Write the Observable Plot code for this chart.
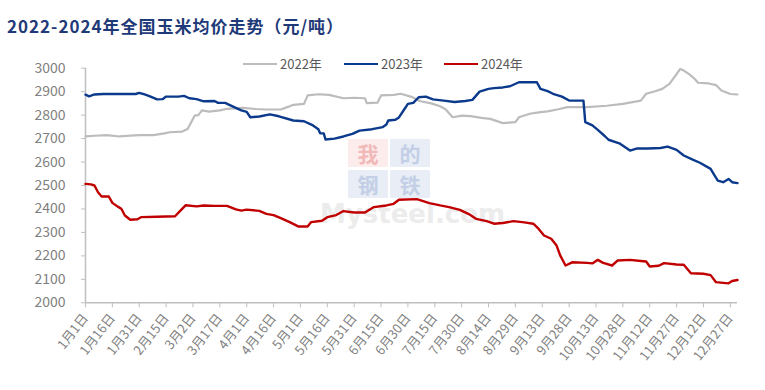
<!DOCTYPE html>
<html><head><meta charset="utf-8">
<script src="https://cdn.jsdelivr.net/npm/d3@7"></script>
<script src="https://cdn.jsdelivr.net/npm/@observablehq/plot@0.6"></script>
<style>
body{margin:0;background:#fff;font-family:"Noto Sans CJK SC","Noto Sans",sans-serif;}
#wrap{position:relative;width:765px;height:390px;overflow:hidden;background:#fff}
#title{height:45px;box-sizing:border-box;padding-left:7px;padding-top:13px;font-size:17px;font-weight:bold;color:#1f3a78;letter-spacing:1px;line-height:26px;white-space:nowrap}
#chart{position:relative;z-index:1}
#legend{position:absolute;z-index:2;top:54px;left:0;height:20px;width:765px;font-size:13px;color:#595959}
.li{position:absolute;top:0;height:20px;line-height:20px}
.sw{position:absolute;top:9px;width:34px;height:2px}
.tile{position:absolute;z-index:0;width:40px;height:28px;}
.tt{position:absolute;z-index:0;width:40px;height:28px;line-height:28px;font-size:21px;text-align:center;font-weight:bold}
.wm{position:absolute;z-index:0;line-height:30px;font-weight:bold}
</style></head>
<body>
<div id="wrap">
  <div id="title">2022-2024年全国玉米均价走势（元/吨）</div>
  <div class="tile" style="left:348px;top:139px;background:#fcecec"></div>
  <div class="tile" style="left:390px;top:139px;background:#e8edf6"></div>
  <div class="tile" style="left:348px;top:170px;background:#e8edf6"></div>
  <div class="tile" style="left:390px;top:170px;background:#e8edf6"></div>
  <div class="tt" style="left:348px;top:139px;color:#f2b9b9">我</div>
  <div class="tt" style="left:390px;top:139px;color:#c3cfe6">的</div>
  <div class="tt" style="left:348px;top:170px;color:#c3cfe6">钢</div>
  <div class="tt" style="left:390px;top:170px;color:#c3cfe6">铁</div>
  <div class="wm" style="left:320px;top:199px;font-size:26px;color:#ececec;font-family:'DejaVu Sans',sans-serif">Mysteel.com</div>
  <div id="chart"></div>
  <div id="legend"></div>
</div>
<script>
// ---- data (day-of-year index, price 元/吨) ----
const tickDays = [0,15,30,45,60,75,90,105,120,135,150,165,180,195,210,225,240,255,270,285,300,315,330,345,360];
const tickLabels = ["1月1日","1月16日","1月31日","2月15日","3月2日","3月17日","4月1日","4月16日","5月1日","5月16日","5月31日","6月15日","6月30日","7月15日","7月30日","8月14日","8月29日","9月13日","9月28日","10月13日","10月28日","11月12日","11月27日","12月12日","12月27日"];
const seriesNames = ["2022年","2023年","2024年"];
const seriesColors = ["#bcbcbc","#0b3a8c","#c00000"];

const days2022 = [0,5,12,19,25,30,38,44,47,54,57,59,61,63,65,69,75,79,88,95,101,109,113,116,122,124,130,136,144,150,156,157,163,165,172,176,182,187,193,198,201,205,210,215,221,226,233,240,242,248,253,258,264,269,280,291,300,310,313,318,322,326,330,332,334,337,340,342,348,352,355,360,364];
const price2022 = [2709,2712,2715,2709,2713,2715,2715,2722,2727,2730,2741,2770,2798,2800,2820,2815,2820,2827,2831,2826,2824,2824,2835,2844,2848,2884,2889,2886,2872,2874,2872,2851,2853,2884,2886,2891,2878,2859,2850,2838,2825,2791,2798,2796,2788,2784,2766,2770,2791,2806,2812,2816,2825,2834,2834,2840,2848,2862,2891,2902,2912,2933,2975,2997,2990,2975,2955,2938,2935,2928,2905,2890,2888];

const days2023 = [0,2,5,10,20,28,30,33,36,40,43,45,52,55,58,62,66,72,74,78,80,83,87,90,92,97,103,108,116,122,127,130,131,133,134,139,144,149,153,160,166,168,169,173,175,178,180,183,186,190,194,200,206,212,216,220,225,228,233,237,242,252,254,258,261,266,270,278,279,283,286,290,292,298,304,308,314,321,325,330,334,339,343,349,351,353,356,359,361,364];
const price2023 = [2887,2880,2888,2890,2890,2890,2895,2888,2880,2867,2868,2879,2879,2882,2872,2868,2859,2860,2852,2852,2845,2834,2820,2814,2791,2794,2803,2795,2777,2774,2756,2740,2723,2722,2696,2700,2709,2720,2734,2740,2749,2760,2777,2780,2790,2825,2848,2852,2876,2879,2867,2862,2856,2860,2865,2900,2912,2915,2918,2923,2940,2940,2912,2902,2891,2879,2862,2862,2770,2756,2737,2710,2695,2680,2649,2658,2658,2660,2666,2652,2628,2610,2597,2571,2545,2521,2514,2528,2514,2510];

const days2024 = [0,3,5,7,9,13,15,18,20,22,25,29,31,40,50,53,56,62,66,72,79,84,87,90,97,101,105,109,114,119,124,126,132,135,140,144,150,156,161,168,172,175,185,192,198,203,209,214,218,224,228,233,239,245,250,253,256,260,263,265,268,272,280,283,286,289,294,297,304,310,313,315,320,323,330,334,338,345,349,352,356,359,361,364];
const price2024 = [2507,2505,2500,2471,2453,2453,2426,2410,2401,2372,2354,2356,2365,2367,2369,2393,2416,2411,2415,2413,2413,2398,2393,2397,2392,2379,2374,2361,2344,2325,2325,2344,2350,2365,2374,2391,2385,2385,2408,2415,2422,2439,2442,2425,2415,2408,2396,2378,2358,2348,2337,2340,2348,2343,2337,2315,2287,2273,2244,2202,2159,2173,2170,2168,2183,2170,2159,2180,2183,2178,2176,2155,2158,2169,2163,2162,2126,2124,2118,2088,2085,2083,2093,2097];

const yTicks = [2000,2100,2200,2300,2400,2500,2600,2700,2800,2900,3000];

// ---- build table ----
const allDays = [days2022, days2023, days2024];
const allPrices = [price2022, price2023, price2024];
const rows = [];
allDays.forEach((ds, s) => ds.forEach((d, i) => rows.push({series: seriesNames[s], day: d, price: allPrices[s][i]})));
const labelOf = new Map(tickDays.map((d, i) => [d, tickLabels[i]]));
const font = '"Noto Sans CJK SC","Noto Sans",sans-serif';

const chart = Plot.plot({
  width: 765,
  height: 345,
  marginLeft: 85,
  marginRight: 28,
  marginTop: 22.7,
  marginBottom: 87.7,
  style: {fontFamily: font, fontSize: "13px", color: "#7f7f7f", background: "transparent", overflow: "visible"},
  x: {domain: [0, 364], label: null},
  y: {domain: [2000, 3000], label: null},
  color: {domain: seriesNames, range: seriesColors},
  marks: [
    Plot.axisY(yTicks, {tickSize: 4, tickPadding: 16, stroke: "#bfbfbf", fill: "#7f7f7f", tickFormat: d => String(d), label: null, fontSize: 14}),
    Plot.axisX(tickDays, {tickSize: 5, tickPadding: 8, tickRotate: -52, stroke: "#bfbfbf", fill: "#7f7f7f", tickFormat: d => labelOf.get(d), label: null, fontSize: 13}),
    Plot.ruleX([0], {stroke: "#bfbfbf", strokeWidth: 1.5}),
    Plot.ruleY([2000], {stroke: "#bfbfbf", strokeWidth: 1.5}),
    Plot.line(rows.filter(r => r.series === "2022年"), {x: "day", y: "price", stroke: "series", strokeWidth: 2.2}),
    Plot.line(rows.filter(r => r.series === "2023年"), {x: "day", y: "price", stroke: "series", strokeWidth: 2.4}),
    Plot.line(rows.filter(r => r.series === "2024年"), {x: "day", y: "price", stroke: "series", strokeWidth: 2.4})
  ]
});
document.getElementById("chart").appendChild(chart);

// ---- legend ----
const legendX = [243, 344, 444];
const legend = document.getElementById("legend");
seriesNames.forEach((n, i) => {
  const sw = document.createElement("div");
  sw.className = "sw";
  sw.style.left = legendX[i] + "px";
  sw.style.background = seriesColors[i];
  legend.appendChild(sw);
  const t = document.createElement("div");
  t.className = "li";
  t.style.left = (legendX[i] + 37) + "px";
  t.textContent = n;
  legend.appendChild(t);
});
</script>
</body></html>
